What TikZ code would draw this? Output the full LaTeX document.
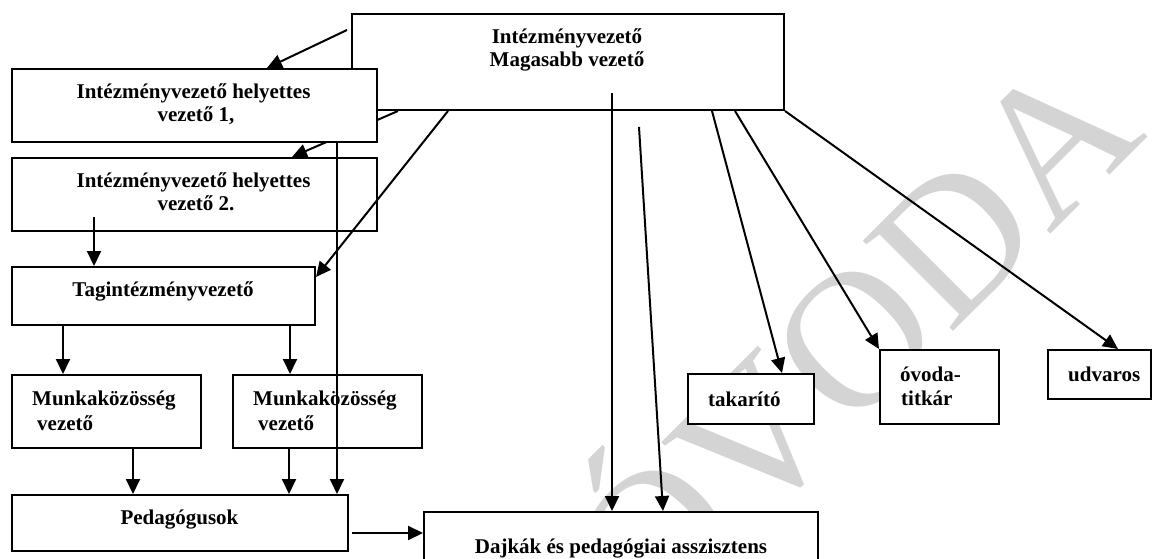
\documentclass[tikz,border=0pt]{standalone}
\usepackage{fontspec}
\setmainfont{Liberation Serif}
\usetikzlibrary{arrows.meta,calc}
\pgfdeclarelayer{bg}
\pgfsetlayers{bg,main}
\definecolor{wmgray}{RGB}{212,212,212}
\begin{document}
\begin{tikzpicture}[x=1pt,y=-1pt,
  box/.style={draw, line width=2pt, fill=white, inner sep=0pt, anchor=north west},
  lbl/.style={font=\fontsize{21}{23}\selectfont\bfseries, inner sep=0pt},
  arr/.style={line width=2pt, -{Triangle[length=15pt,width=14pt]}},
  wmark/.style={font=\fontsize{195}{195}\selectfont, text=wmgray, inner sep=0pt}
]
\useasboundingbox (0,0) rectangle (1152,559);
\clip (0,0) rectangle (1152,559);

% watermark
\begin{pgfonlayer}{bg}
\node[wmark, rotate=45, anchor=base] (wm) at (900,385) {ÓVODA};
\end{pgfonlayer}

% boxes
\node[box, minimum width=432pt, minimum height=96pt] (top) at (351,13) {};
\node[box, minimum width=365pt, minimum height=73pt] (b1) at (11,68) {};
\node[box, minimum width=365pt, minimum height=73pt] (b2) at (11,157) {};
\node[box, minimum width=303pt, minimum height=58pt] (tag) at (11,266) {};
\node[box, minimum width=189pt, minimum height=73pt] (mk1) at (11,374) {};
\node[box, minimum width=189pt, minimum height=73pt] (mk2) at (232,374) {};
\node[box, minimum width=336pt, minimum height=56pt] (ped) at (11,494) {};
\node[box, minimum width=394pt, minimum height=69pt] (daj) at (423,511) {};
\node[box, minimum width=126pt, minimum height=50pt] (tak) at (687,373) {};
\node[box, minimum width=119pt, minimum height=74pt] (ovo) at (879,349) {};
\node[box, minimum width=103pt, minimum height=49pt] (udv) at (1047,349) {};

% labels
\node[lbl, anchor=base] (t1) at (567,44) {Intézményvezető};
\node[lbl, anchor=base] (t2) at (567,67) {Magasabb vezető};
\node[lbl, anchor=base] (b1a) at (193.5,99) {Intézményvezető helyettes};
\node[lbl, anchor=base] (b1b) at (196,122) {vezető 1,};
\node[lbl, anchor=base] (b2a) at (193.5,188) {Intézményvezető helyettes};
\node[lbl, anchor=base] (b2b) at (196,211) {vezető 2.};
\node[lbl, anchor=base] (tagl) at (163,296) {Tagintézményvezető};
\node[lbl, anchor=base west] (mk1a) at (32,405.5) {Munkaközösség};
\node[lbl, anchor=base west] (mk1b) at (37,430.5) {vezető};
\node[lbl, anchor=base west] (mk2a) at (253,405.5) {Munkaközösség};
\node[lbl, anchor=base west] (mk2b) at (258,430.5) {vezető};
\node[lbl, anchor=base] (pedl) at (179.5,524) {Pedagógusok};
\node[lbl, anchor=base] (dajl) at (621,553) {Dajkák és pedagógiai asszisztens};
\node[lbl, anchor=base west] (takl) at (708,406) {takarító};
\node[lbl, anchor=base west] (ovoa) at (900,381) {óvoda-};
\node[lbl, anchor=base west] (ovob) at (901,405) {titkár};
\node[lbl, anchor=base west] (udvl) at (1068,381) {udvaros};

% free start points
\coordinate (s1) at ($(top.north west)+(-4,17)$);
\coordinate (s2) at ($(top.south west)+(47,0)$);
\coordinate (s3) at ($(top.south west)+(97,0)$);
\coordinate (s4) at (612,93);
\coordinate (s5) at (639,127);
\coordinate (s6) at ($(top.south west)+(361,0)$);
\coordinate (s7) at ($(top.south west)+(384,0)$);
\coordinate (s9) at (94,217);
\coordinate (x10) at (63,0);
\coordinate (x11) at (290,0);
\coordinate (x12) at (133,0);
\coordinate (x13) at (289,0);
\coordinate (x14) at (337,0);
\coordinate (s15) at (352,533);

% connector hidden under box 1
\begin{pgfonlayer}{bg}
\draw[arr] (s2) -- ($(b2.north west)+(281,0)$);
\end{pgfonlayer}

% connectors
\draw[arr] (s1) -- ($(b1.north west)+(256,0)$);
\draw[arr] (s3) -- ($(tag.north east)+(0,11)$);
\draw[arr] (s4) -- (s4 |- daj.north);
\draw[arr] (s5) -- ($(daj.north west)+(240,0)$);
\draw[arr] (s6) -- ($(tak.north west)+(95,0)$);
\draw[arr] (s7) -- (ovo.north west);
\draw[arr] (top.south east) -- ($(udv.north west)+(71,0)$);
\draw[arr] (s9) -- (s9 |- tag.north);
\draw[arr] (x10 |- tag.south) -- (x10 |- mk1.north);
\draw[arr] (x11 |- tag.south) -- (x11 |- mk2.north);
\draw[arr] (x12 |- mk1.south) -- (x12 |- ped.north);
\draw[arr] (x13 |- mk2.south) -- (x13 |- ped.north);
\draw[arr] (x14 |- b1.south) -- (x14 |- ped.north);
\draw[arr] (s15) -- (s15 -| daj.west);
\end{tikzpicture}
\end{document}
